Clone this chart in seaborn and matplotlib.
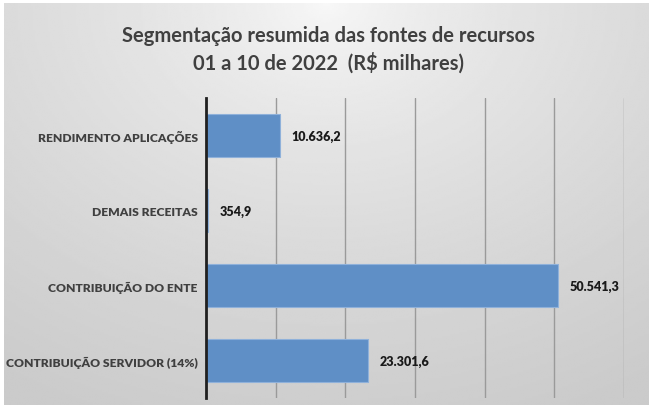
import matplotlib
matplotlib.use("Agg")
import matplotlib.pyplot as plt
import numpy as np
import pandas as pd
import seaborn as sns

categorias = ["RENDIMENTO APLICAÇÕES", "DEMAIS RECEITAS",
              "CONTRIBUIÇÃO DO ENTE", "CONTRIBUIÇÃO SERVIDOR (14%)"]
valores = [10636.2, 354.9, 50541.3, 23301.6]
titulo = "Segmentação resumida das fontes de recursos\n01 a 10 de 2022  (R$ milhares)"


def fmt_br(v):
    s = f"{v:,.1f}"
    return s.replace(",", "X").replace(".", ",").replace("X", ".")


sns.set_style("white")
plt.rcParams["font.family"] = ["Lato", "DejaVu Sans"]

df = pd.DataFrame({"categoria": categorias, "valor": valores})

fig = plt.figure(figsize=(6.49, 4.06), dpi=100)
fig.patch.set_facecolor("white")

# grey gradient background, lighter at the top centre
bg = fig.add_axes([4 / 649, 0, 645 / 649, 402 / 406], zorder=0)
yy, xx = np.mgrid[0:1:200j, 0:1:300j]
d = np.sqrt(((xx - 0.5) * 1.1) ** 2 + (yy * 0.9) ** 2)
shade = 0.975 - 0.18 * np.clip(d, 0, 1) ** 0.7
bg.imshow(shade, cmap="gray", vmin=0, vmax=1, aspect="auto",
          extent=[0, 1, 1, 0], interpolation="bilinear")
bg.set_axis_off()

ax = fig.add_axes([206 / 649, 7 / 406, 418 / 649, 300 / 406], zorder=1)
ax.patch.set_alpha(0)
sns.barplot(data=df, x="valor", y="categoria", orient="h", ax=ax,
            color="#5f8fc6", saturation=1, width=0.57,
            edgecolor="#8fb1da", linewidth=0.8, zorder=3)

ax.set_xlim(0, 60000)
ax.set_xticks(np.arange(0, 60001, 10000))
ax.xaxis.grid(True, color="#9a9a9a", linewidth=1)
ax.set_axisbelow(True)
ax.tick_params(axis="x", length=0, labelbottom=False)
ax.tick_params(axis="y", length=0, pad=6)
for lbl in ax.get_yticklabels():
    lbl.set_fontsize(8.7)
    lbl.set_fontweight("heavy")
    lbl.set_color("#404040")
ax.set_xlabel("")
ax.set_ylabel("")
for s in ["top", "right", "bottom"]:
    ax.spines[s].set_visible(False)
ax.spines["left"].set_color("#202020")
ax.spines["left"].set_linewidth(2)
ax.spines["left"].set_zorder(4)

for i, v in enumerate(valores):
    ax.annotate(fmt_br(v), (v, i), xytext=(8, 0), textcoords="offset points",
                va="center", ha="left", fontsize=9, fontweight="heavy",
                color="#1a1a1a")

fig.text(0.506, 0.878, titulo, ha="center", va="center", fontsize=14.5,
         fontweight="bold", color="#404040", linespacing=1.35)

fig.savefig("out.png", dpi=100)
